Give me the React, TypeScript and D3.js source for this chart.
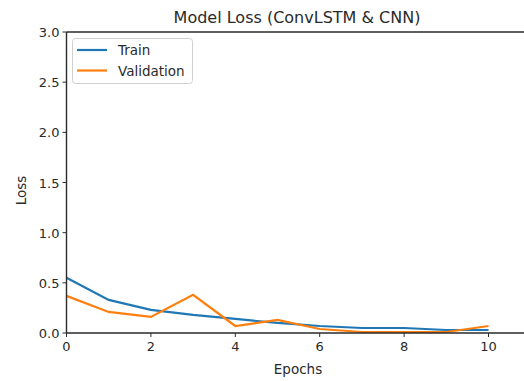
import React from "react";
import * as d3 from "d3";

const epochs = [0, 1, 2, 3, 4, 5, 6, 7, 8, 9, 10];
const trainLoss = [0.55, 0.33, 0.23, 0.18, 0.14, 0.1, 0.07, 0.05, 0.05, 0.03, 0.03];
const valLoss = [0.37, 0.21, 0.16, 0.38, 0.07, 0.13, 0.04, 0.01, 0.01, 0.01, 0.07];
const xTicks = [0, 2, 4, 6, 8, 10];
const yTicks = [0, 0.5, 1.0, 1.5, 2.0, 2.5, 3.0];
const seriesNames = ["Train", "Validation"];
const colors = ["#1f77b4", "#ff7f0e"];

const W = 524;
const H = 381;
const left = 66.5;
const top = 32;
const bottom = 333;

export default function App() {
  const x = d3.scaleLinear().domain([0, 10]).range([left, 488.5]);
  const y = d3.scaleLinear().domain([0, 3]).range([bottom, top]);
  const line = d3
    .line<number>()
    .x((_, i) => x(epochs[i]))
    .y((d) => y(d));
  const font = "DejaVu Sans, sans-serif";
  const series = [trainLoss, valLoss];
  const ink = "#2a2a2a";
  return (
    <svg
      width={W}
      height={H}
      style={{ position: "absolute", left: 0, top: 0, background: "#fff" }}
      fontFamily={font}
    >
      <rect width={W} height={H} fill="#fff" />
      {series.map((s, i) => (
        <path key={i} d={line(s) || ""} fill="none" stroke={colors[i]} strokeWidth={2.2} />
      ))}
      {/* spines */}
      <line x1={left} x2={W} y1={top} y2={top} stroke={ink} strokeWidth={1.4} />
      <line x1={left} x2={W} y1={bottom} y2={bottom} stroke={ink} strokeWidth={1.4} />
      <line x1={left} x2={left} y1={top} y2={bottom} stroke={ink} strokeWidth={1.4} />
      {xTicks.map((t) => (
        <g key={t}>
          <line x1={x(t)} x2={x(t)} y1={bottom} y2={bottom + 4} stroke={ink} />
          <text x={x(t)} y={bottom + 18} textAnchor="middle" fontSize={13} fill={ink}>
            {t}
          </text>
        </g>
      ))}
      {yTicks.map((t) => (
        <g key={t}>
          <line x1={left - 4} x2={left} y1={y(t)} y2={y(t)} stroke={ink} />
          <text x={left - 7} y={y(t) + 5} textAnchor="end" fontSize={13} fill={ink}>
            {t.toFixed(1)}
          </text>
        </g>
      ))}
      <text x={297} y={23} textAnchor="middle" fontSize={16} fill={ink}>
        Model Loss (ConvLSTM &amp; CNN)
      </text>
      <text x={298} y={374} textAnchor="middle" fontSize={13.5} fill={ink}>
        Epochs
      </text>
      <text
        transform={`translate(26,${(top + bottom) / 2 + 8}) rotate(-90)`}
        textAnchor="middle"
        fontSize={13.5}
        fill={ink}
      >
        Loss
      </text>
      {/* legend */}
      <rect x={72.5} y={38.5} width={120} height={45} rx={3} fill="#fff" stroke="#d0d0d0" />
      {seriesNames.map((n, i) => (
        <g key={n}>
          <line x1={77} x2={107} y1={50 + i * 20.5} y2={50 + i * 20.5} stroke={colors[i]} strokeWidth={2.2} />
          <text x={118} y={55 + i * 20.5} fontSize={13.5} fill={ink}>
            {n}
          </text>
        </g>
      ))}
    </svg>
  );
}
